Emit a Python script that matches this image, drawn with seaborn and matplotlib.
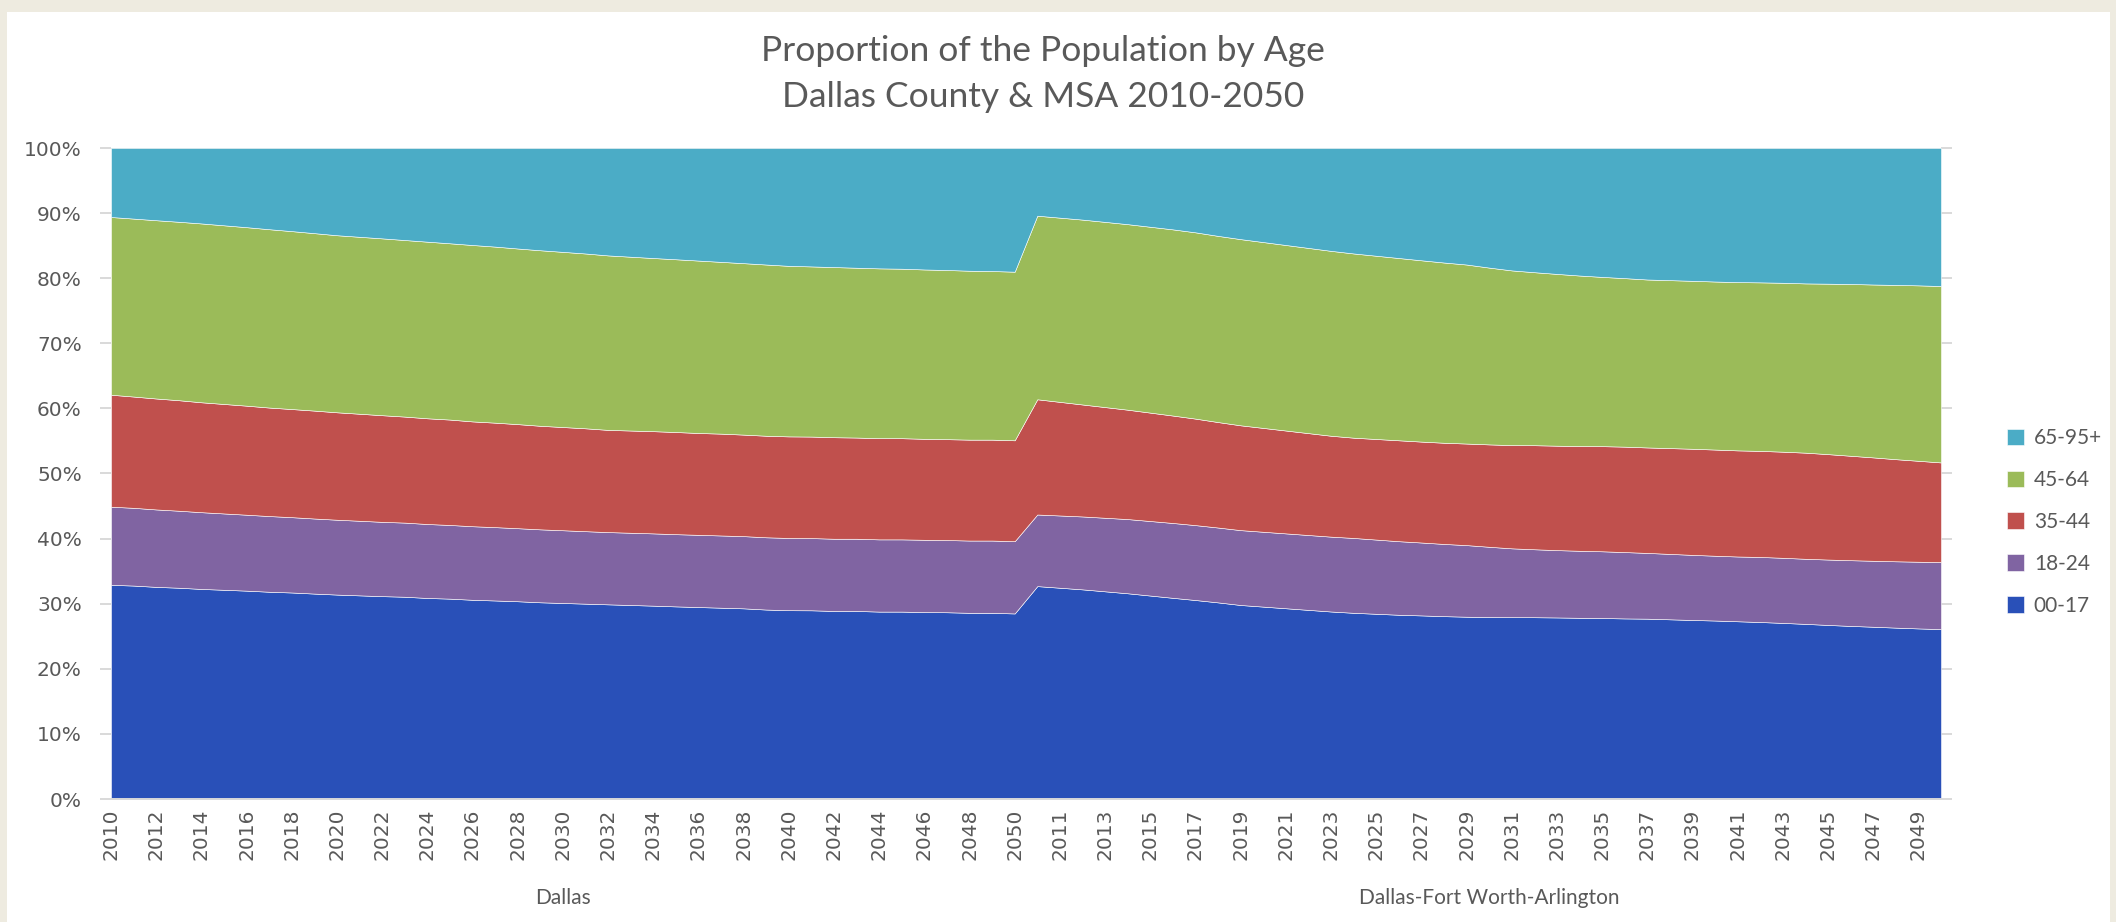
import numpy as np
import pandas as pd
import matplotlib
matplotlib.use("Agg")
import matplotlib.pyplot as plt
import matplotlib.transforms as mtransforms
from matplotlib.patches import Rectangle
import seaborn as sns

# ---------------- data ----------------
title_lines = ["Proportion of the Population by Age", "Dallas County & MSA 2010-2050"]
regions = ["Dallas", "Dallas-Fort Worth-Arlington"]
years = list(range(2010, 2051))
age_groups = ["00-17", "18-24", "35-44", "45-64", "65-95+"]

dallas_00_17 = [32.9, 32.8, 32.6, 32.5, 32.3, 32.2, 32.1, 31.9, 31.8, 31.6, 31.4,
                31.3, 31.2, 31.1, 30.9, 30.8, 30.6, 30.5, 30.4, 30.2, 30.1,
                30.0, 29.9, 29.8, 29.7, 29.6, 29.5, 29.4, 29.3, 29.1, 29.0,
                29.0, 28.9, 28.9, 28.8, 28.8, 28.7, 28.7, 28.6, 28.6, 28.5]
dallas_18_24 = [12.0, 11.95, 11.9, 11.85, 11.8, 11.75, 11.7, 11.65, 11.6, 11.55, 11.5,
                11.47, 11.43, 11.4, 11.37, 11.33, 11.3, 11.27, 11.23, 11.2, 11.17,
                11.13, 11.1, 11.1, 11.1, 11.1, 11.1, 11.1, 11.1, 11.1, 11.1,
                11.1, 11.1, 11.1, 11.1, 11.1, 11.1, 11.1, 11.1, 11.1, 11.1]
dallas_35_44 = [17.2, 17.1, 17.05, 17.0, 16.9, 16.85, 16.8, 16.7, 16.65, 16.6, 16.5,
                16.45, 16.4, 16.3, 16.25, 16.2, 16.1, 16.05, 16.0, 15.9, 15.85,
                15.8, 15.7, 15.7, 15.7, 15.7, 15.65, 15.65, 15.6, 15.6, 15.6,
                15.6, 15.6, 15.55, 15.55, 15.55, 15.5, 15.5, 15.5, 15.5, 15.5]
dallas_45_64 = [27.3, 27.35, 27.4, 27.45, 27.5, 27.5, 27.5, 27.45, 27.4, 27.3, 27.2,
                27.2, 27.2, 27.15, 27.15, 27.1, 27.1, 27.05, 27.0, 26.95, 26.9,
                26.85, 26.8, 26.7, 26.6, 26.55, 26.5, 26.4, 26.35, 26.3, 26.2,
                26.15, 26.15, 26.1, 26.1, 26.05, 26.0, 26.0, 25.95, 25.9, 25.9]
dallas_65_up = [10.6, 10.85, 11.1, 11.35, 11.6, 11.9, 12.2, 12.5, 12.8, 13.1, 13.4,
                13.65, 13.9, 14.15, 14.4, 14.65, 14.9, 15.15, 15.45, 15.7, 15.95,
                16.2, 16.5, 16.7, 16.9, 17.1, 17.3, 17.5, 17.7, 17.9, 18.1,
                18.2, 18.3, 18.4, 18.5, 18.55, 18.65, 18.75, 18.85, 18.9, 19.0]

dfw_00_17 = [32.7, 32.45, 32.2, 31.9, 31.6, 31.25, 30.9, 30.55, 30.2, 29.8,
             29.55, 29.3, 29.05, 28.8, 28.6, 28.45, 28.3, 28.2, 28.1, 28.0,
             28.0, 28.0, 27.95, 27.9, 27.85, 27.8, 27.75, 27.7, 27.6, 27.5,
             27.4, 27.3, 27.2, 27.05, 26.9, 26.75, 26.6, 26.5, 26.35, 26.2, 26.1]
dfw_18_24 = [11.0, 11.1, 11.2, 11.3, 11.4, 11.45, 11.5, 11.5, 11.5, 11.5,
             11.5, 11.5, 11.5, 11.5, 11.5, 11.4, 11.3, 11.2, 11.1, 11.0,
             10.8, 10.6, 10.45, 10.35, 10.3, 10.25, 10.2, 10.1, 10.05, 10.0,
             9.95, 9.95, 10.0, 10.0, 10.0, 10.05, 10.1, 10.15, 10.2, 10.25, 10.3]
dfw_35_44 = [17.7, 17.45, 17.2, 17.0, 16.8, 16.65, 16.5, 16.35, 16.2, 16.1,
             15.95, 15.8, 15.65, 15.5, 15.4, 15.45, 15.5, 15.5, 15.55, 15.6,
             15.75, 15.9, 16.0, 16.05, 16.1, 16.15, 16.2, 16.2, 16.25, 16.3,
             16.3, 16.3, 16.3, 16.3, 16.3, 16.2, 16.05, 15.9, 15.7, 15.5, 15.3]
dfw_45_64 = [28.2, 28.3, 28.4, 28.45, 28.5, 28.55, 28.6, 28.6, 28.6, 28.6,
             28.55, 28.5, 28.45, 28.4, 28.3, 28.15, 28.0, 27.85, 27.7, 27.5,
             27.2, 26.9, 26.6, 26.4, 26.2, 26.0, 25.9, 25.8, 25.8, 25.8,
             25.8, 25.85, 25.9, 25.95, 26.0, 26.2, 26.4, 26.6, 26.8, 26.95, 27.1]
dfw_65_up = [10.4, 10.7, 11.0, 11.35, 11.7, 12.1, 12.5, 12.95, 13.5, 14.0,
             14.45, 14.9, 15.35, 15.8, 16.2, 16.55, 16.9, 17.25, 17.6, 17.9,
             18.4, 18.85, 19.1, 19.35, 19.6, 19.8, 20.0, 20.2, 20.3, 20.4,
             20.5, 20.6, 20.65, 20.7, 20.8, 20.85, 20.9, 21.0, 21.05, 21.1, 21.2]

colors = ["#2950B8", "#8064A2", "#C0504D", "#9BBB59", "#4BACC6"]
y_ticklabels = ["0%", "10%", "20%", "30%", "40%", "50%", "60%", "70%", "80%", "90%", "100%"]

# ---------------- frame ----------------
rows = []
for reg, series in zip(regions, [
        [dallas_00_17, dallas_18_24, dallas_35_44, dallas_45_64, dallas_65_up],
        [dfw_00_17, dfw_18_24, dfw_35_44, dfw_45_64, dfw_65_up]]):
    for k, y in enumerate(years):
        row = {"region": reg, "year": y}
        for g, s in zip(age_groups, series):
            row[g] = s[k]
        rows.append(row)
df = pd.DataFrame(rows)
vals = df[age_groups].to_numpy(dtype=float)
shares = vals / vals.sum(axis=1, keepdims=True)   # 100% stacked
x = np.arange(len(df))

# ---------------- plot ----------------
sns.set_theme(style="white")
plt.rcParams["font.family"] = ["Lato", "DejaVu Sans"]
text_col = "#595959"
grid_col = "#D9D9D9"

W, H = 2116, 922
fig = plt.figure(figsize=(W / 100, H / 100), dpi=100)
fig.patch.set_facecolor("#EEEBE0")
fig.patches.append(Rectangle((7 / W, 0), (W - 13) / W, (H - 12) / H,
                             transform=fig.transFigure, facecolor="white",
                             edgecolor="none", zorder=-10))

ax = fig.add_axes([111 / W, 1 - 799 / H, (1941 - 111) / W, (799 - 148) / H])
ax.set_facecolor("white")
ax.stackplot(x, *shares.T, colors=colors, labels=age_groups,
             edgecolor="#FFFFFF", linewidth=0.4, zorder=2)

ax.set_xlim(0, len(df) - 1)
ax.set_ylim(0, 1)
ax.set_yticks(np.linspace(0, 1, 11))
ax.set_yticklabels(y_ticklabels)
ax.yaxis.set_ticks_position("both")
ax.tick_params(axis="y", which="both", left=True, right=True, length=8,
               width=1.4, color=grid_col, pad=13, labelsize=14.5,
               labelcolor=text_col, direction="out")
ax.tick_params(axis="y", labelright=False)
for lbl in ax.get_yticklabels():
    lbl.set_fontfamily(["DejaVu Sans"])

tick_pos = x[::2]
tick_lab = [str(v) for v in df["year"].to_numpy()[::2]]
ax.set_xticks(tick_pos)
ax.set_xticklabels(tick_lab, rotation=90, fontsize=14.5, color=text_col,
                   fontfamily=["DejaVu Sans"])
ax.tick_params(axis="x", length=0, pad=7)

for sp in ["left", "right", "top"]:
    ax.spines[sp].set_visible(False)
ax.spines["bottom"].set_color(grid_col)
ax.spines["bottom"].set_linewidth(1.4)
ax.axhline(1.0, color=grid_col, lw=1.2, zorder=1)

# group labels
trans = mtransforms.blended_transform_factory(ax.transData, fig.transFigure)
n = len(years)
for i, reg in enumerate(regions):
    cx = (i * n + (i + 1) * n - 1) / 2
    ax.text(cx, 1 - 898 / H, reg, transform=trans, ha="center", va="center",
            fontsize=15, color=text_col)

# title
fig.text(1043 / W, 1 - 51 / H, title_lines[0], ha="center", va="center",
         fontsize=25.5, color=text_col)
fig.text(1043 / W, 1 - 97 / H, title_lines[1], ha="center", va="center",
         fontsize=25.5, color=text_col)

# legend (reverse order like the reference)
handles, labels = ax.get_legend_handles_labels()
leg = fig.legend(handles[::-1], labels[::-1], loc="center left",
                 bbox_to_anchor=(1988 / W, 1 - 522 / H), frameon=False,
                 fontsize=15, handlelength=0.85, handleheight=0.85,
                 handletextpad=0.45, labelspacing=1.05, labelcolor=text_col)

fig.savefig("out.png", dpi=100, facecolor=fig.get_facecolor())
